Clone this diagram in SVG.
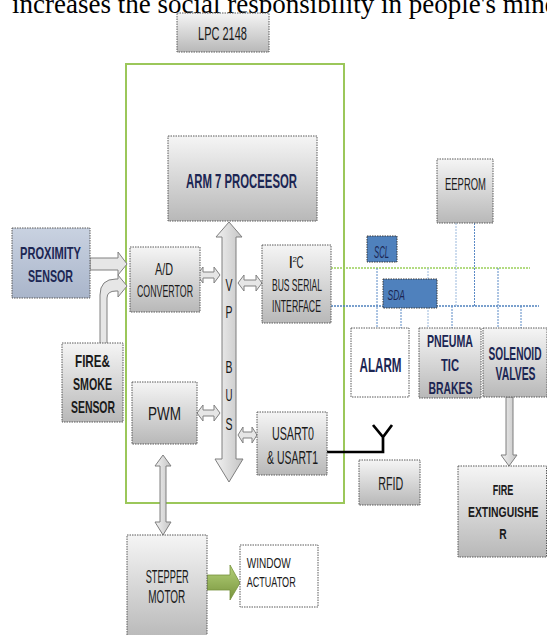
<svg xmlns="http://www.w3.org/2000/svg" width="547" height="635" viewBox="0 0 547 635">
<defs>
<linearGradient id="gray" x1="0" y1="0" x2="0" y2="1">
<stop offset="0" stop-color="#f5f5f5"/><stop offset="1" stop-color="#b8b8b8"/>
</linearGradient>
<linearGradient id="blueg" x1="0" y1="0" x2="0" y2="1">
<stop offset="0" stop-color="#c9d2e1"/><stop offset="1" stop-color="#a9b5ca"/>
</linearGradient>
<linearGradient id="busg" x1="0" y1="0" x2="1" y2="0">
<stop offset="0" stop-color="#f2f2f2"/><stop offset="1" stop-color="#c4c4c4"/>
</linearGradient>
<linearGradient id="greeng" x1="0" y1="0" x2="0" y2="1">
<stop offset="0" stop-color="#b5d27a"/><stop offset="1" stop-color="#77933c"/>
</linearGradient>
<style>
.box{fill:url(#gray);stroke:#5a5a5a;stroke-width:1;stroke-dasharray:1.5 1}
.wbox{fill:#ffffff;stroke:#5a5a5a;stroke-width:1;stroke-dasharray:1.5 1}
.bbox{fill:#4f81bd;stroke:#3a3a3a;stroke-width:1;stroke-dasharray:1.5 1}
.t{font-family:"Liberation Sans",Arial,sans-serif;fill:#1a1a1a}
.b{font-weight:bold}
.navy{fill:#1c2653}
.it{font-style:italic;fill:#1c2653}
.arr{fill:url(#busg);stroke:#7f7f7f;stroke-width:1}
.harr{fill:#e6e6e6;stroke:#808080;stroke-width:1}
.gl{stroke:#9bcf5a;stroke-width:1.5;stroke-dasharray:2 1;fill:none}
.bl{stroke:#4f81bd;stroke-width:1.5;stroke-dasharray:2 1;fill:none}
.vl{stroke:#5b8ac6;stroke-width:1;stroke-dasharray:2 1;fill:none}
.vl2{stroke:#9bb9dd;stroke-width:1;stroke-dasharray:2 1;fill:none}
</style>
</defs>
<rect width="547" height="635" fill="#ffffff"/>

<text x="12" y="13" font-family="Liberation Serif,Times New Roman,serif" font-size="27" fill="#000">increases the social responsibility in people's mind</text>

<g id="lpc2148">
<rect x="126" y="64" width="218" height="439" fill="none" stroke="#9bc75a" stroke-width="2"/>
<rect class="box" x="177" y="13" width="92" height="39"/>
<text class="t" x="198" y="40" font-size="18" textLength="49" lengthAdjust="spacingAndGlyphs">LPC 2148</text>
</g>

<g id="connectors">
<path class="arr" d="M229,222 L242,237 L236,237 L236,459 L243,459 L229,482 L215,459 L222,459 L222,237 L216,237 Z"/>
<path class="harr" d="M197,275 L203,267 L203,272 L214,272 L214,267 L220,275 L214,283 L214,278 L203,278 L203,283 Z"/>
<path class="harr" d="M238,283 L244,275 L244,280 L256,280 L256,275 L262,283 L256,291 L256,286 L244,286 L244,291 Z"/>
<path class="harr" d="M197,413 L203,405 L203,410 L214,410 L214,405 L220,413 L214,421 L214,416 L203,416 L203,421 Z"/>
<path class="harr" d="M238,435 L243,427 L243,432 L252,432 L252,427 L257,435 L252,443 L252,438 L243,438 L243,443 Z"/>
<path class="harr" d="M90,258 L118,258 L118,252 L127,264 L118,275 L118,270 L90,270 Z"/>
<path class="harr" d="M100,345 L100,295 Q100,279 116,279 L118,279 L118,275 L127,286 L118,297 L118,291 L116,291 Q107,291 107,298 L107,345 Z"/>
<path class="arr" d="M163,455 L171,466 L166,466 L166,522 L171,522 L163,535 L155,522 L160,522 L160,466 L155,466 Z"/>
<path class="arr" d="M506,397 L513,397 L513,455 L517,455 L509,466 L501,455 L506,455 Z"/>
<path d="M207,575 L230,575 L230,565 L240,583 L230,600 L230,590 L207,590 Z" fill="url(#greeng)" stroke="#77933c" stroke-width="0.8"/>
<line class="gl" x1="331" y1="268" x2="530" y2="268"/>
<line class="bl" x1="331" y1="306" x2="539" y2="306"/>
<line class="vl" x1="377" y1="268" x2="377" y2="328"/>
<line class="vl" x1="401" y1="306" x2="401" y2="328"/>
<line class="vl2" x1="428" y1="268" x2="428" y2="328"/>
<line class="vl" x1="452" y1="306" x2="452" y2="328"/>
<line class="vl" x1="498" y1="268" x2="498" y2="328"/>
<line class="vl" x1="521" y1="306" x2="521" y2="328"/>
<line class="vl2" x1="456" y1="223" x2="456" y2="306"/>
<line class="vl" x1="474.5" y1="223" x2="474.5" y2="306"/>
<path d="M327,452 L383,452 L383,437 M373,425 L383,437 L392,425" fill="none" stroke="#000" stroke-width="2.7"/>
</g>

<g id="arm7">
<rect class="box" x="168" y="136" width="149" height="85"/>
<text class="t b navy" x="186" y="188" font-size="20.5" textLength="111" lengthAdjust="spacingAndGlyphs">ARM 7 PROCEESOR</text>
</g>

<g id="vpbus-label" class="t" font-size="17">
<text x="225.5" y="291" textLength="7" lengthAdjust="spacingAndGlyphs">V</text>
<text x="225.5" y="318" textLength="7" lengthAdjust="spacingAndGlyphs">P</text>
<text x="225.5" y="373" textLength="7" lengthAdjust="spacingAndGlyphs">B</text>
<text x="225.5" y="401" textLength="7" lengthAdjust="spacingAndGlyphs">U</text>
<text x="225.5" y="430" textLength="7" lengthAdjust="spacingAndGlyphs">S</text>
</g>

<g id="adc">
<rect class="box" x="130" y="247" width="70" height="65"/>
<text class="t" x="155" y="275" font-size="16.5" textLength="18" lengthAdjust="spacingAndGlyphs">A/D</text>
<text class="t" x="137" y="297" font-size="16.5" textLength="56" lengthAdjust="spacingAndGlyphs">CONVERTOR</text>
</g>

<g id="i2c">
<rect class="box" x="262" y="245" width="69" height="78"/>
<text class="t" x="288.5" y="268" font-size="16.5">I</text>
<text class="t" x="292.5" y="262" font-size="8">2</text>
<text class="t" x="296.5" y="268" font-size="16.5" textLength="7" lengthAdjust="spacingAndGlyphs">C</text>
<text class="t" x="272" y="291" font-size="16.5" textLength="50" lengthAdjust="spacingAndGlyphs">BUS SERIAL</text>
<text class="t" x="272" y="312" font-size="16.5" textLength="49" lengthAdjust="spacingAndGlyphs">INTERFACE</text>
</g>

<g id="pwm">
<rect class="box" x="132" y="382" width="65" height="62"/>
<text class="t" x="148" y="420" font-size="18.5" textLength="33" lengthAdjust="spacingAndGlyphs">PWM</text>
</g>

<g id="usart">
<rect class="box" x="257" y="412" width="70" height="63"/>
<text class="t" x="272" y="440" font-size="18.5" textLength="42" lengthAdjust="spacingAndGlyphs">USART0</text>
<text class="t" x="267" y="464" font-size="18.5" textLength="51" lengthAdjust="spacingAndGlyphs">&amp; USART1</text>
</g>

<g id="proximity">
<rect x="12" y="228" width="78" height="70" fill="url(#blueg)" stroke="#5a5a5a" stroke-width="1" stroke-dasharray="1.5 1"/>
<text class="t b navy" x="20" y="259" font-size="16.5" textLength="61" lengthAdjust="spacingAndGlyphs">PROXIMITY</text>
<text class="t b navy" x="28" y="282" font-size="16.5" textLength="45" lengthAdjust="spacingAndGlyphs">SENSOR</text>
</g>

<g id="firesmoke">
<rect class="box" x="62" y="343" width="61" height="79"/>
<text class="t b" x="75" y="367" font-size="17" textLength="35" lengthAdjust="spacingAndGlyphs">FIRE&amp;</text>
<text class="t b" x="73" y="390" font-size="17" textLength="39" lengthAdjust="spacingAndGlyphs">SMOKE</text>
<text class="t b" x="71" y="413" font-size="17" textLength="44" lengthAdjust="spacingAndGlyphs">SENSOR</text>
</g>

<g id="eeprom">
<rect class="box" x="437" y="159" width="56" height="64"/>
<text class="t" x="445" y="190" font-size="16.5" textLength="41" lengthAdjust="spacingAndGlyphs">EEPROM</text>
</g>

<g id="scl">
<rect class="bbox" x="367" y="236" width="30" height="26"/>
<text class="t it" x="374" y="258" font-size="16" textLength="15" lengthAdjust="spacingAndGlyphs">SCL</text>
</g>

<g id="sda">
<rect class="bbox" x="383" y="279" width="54" height="29"/>
<text class="t it" x="387.5" y="300" font-size="14" textLength="17.5" lengthAdjust="spacingAndGlyphs">SDA</text>
</g>

<g id="alarm">
<rect class="wbox" x="351" y="328" width="58" height="69"/>
<text class="t b navy" x="359.5" y="372" font-size="20" textLength="42" lengthAdjust="spacingAndGlyphs">ALARM</text>
</g>

<g id="pneumatic">
<rect class="box" x="419" y="328" width="62" height="70"/>
<text class="t b navy" x="427" y="347" font-size="16.5" textLength="46" lengthAdjust="spacingAndGlyphs">PNEUMA</text>
<text class="t b navy" x="441" y="371" font-size="16.5" textLength="18" lengthAdjust="spacingAndGlyphs">TIC</text>
<text class="t b navy" x="428.5" y="393.5" font-size="16.5" textLength="44" lengthAdjust="spacingAndGlyphs">BRAKES</text>
</g>

<g id="solenoid">
<rect class="box" x="483" y="328" width="64" height="69"/>
<text class="t b navy" x="488.5" y="359.5" font-size="17.5" textLength="53" lengthAdjust="spacingAndGlyphs">SOLENOID</text>
<text class="t b navy" x="495.5" y="380" font-size="17.5" textLength="40" lengthAdjust="spacingAndGlyphs">VALVES</text>
</g>

<g id="extinguisher">
<rect class="box" x="458" y="466" width="88.5" height="91"/>
<text class="t b" x="492.7" y="495" font-size="15" textLength="20.7" lengthAdjust="spacingAndGlyphs">FIRE</text>
<text class="t b" x="468" y="517.3" font-size="15" textLength="70.5" lengthAdjust="spacingAndGlyphs">EXTINGUISHE</text>
<text class="t b" x="499.3" y="539.3" font-size="15" textLength="7.4" lengthAdjust="spacingAndGlyphs">R</text>
</g>

<g id="rfid">
<rect class="box" x="359" y="460" width="61" height="45"/>
<text class="t" x="378.3" y="490" font-size="18.5" textLength="25" lengthAdjust="spacingAndGlyphs">RFID</text>
</g>

<g id="stepper">
<rect class="box" x="127" y="535" width="80" height="105"/>
<text class="t" x="145.7" y="582.7" font-size="17.5" textLength="43" lengthAdjust="spacingAndGlyphs">STEPPER</text>
<text class="t" x="148.3" y="603.3" font-size="17.5" textLength="37" lengthAdjust="spacingAndGlyphs">MOTOR</text>
</g>

<g id="window">
<rect class="wbox" x="240" y="545" width="78" height="62"/>
<text class="t" x="246.7" y="568.3" font-size="15" textLength="44" lengthAdjust="spacingAndGlyphs">WINDOW</text>
<text class="t" x="246.7" y="587.3" font-size="15" textLength="49" lengthAdjust="spacingAndGlyphs">ACTUATOR</text>
</g>
</svg>
